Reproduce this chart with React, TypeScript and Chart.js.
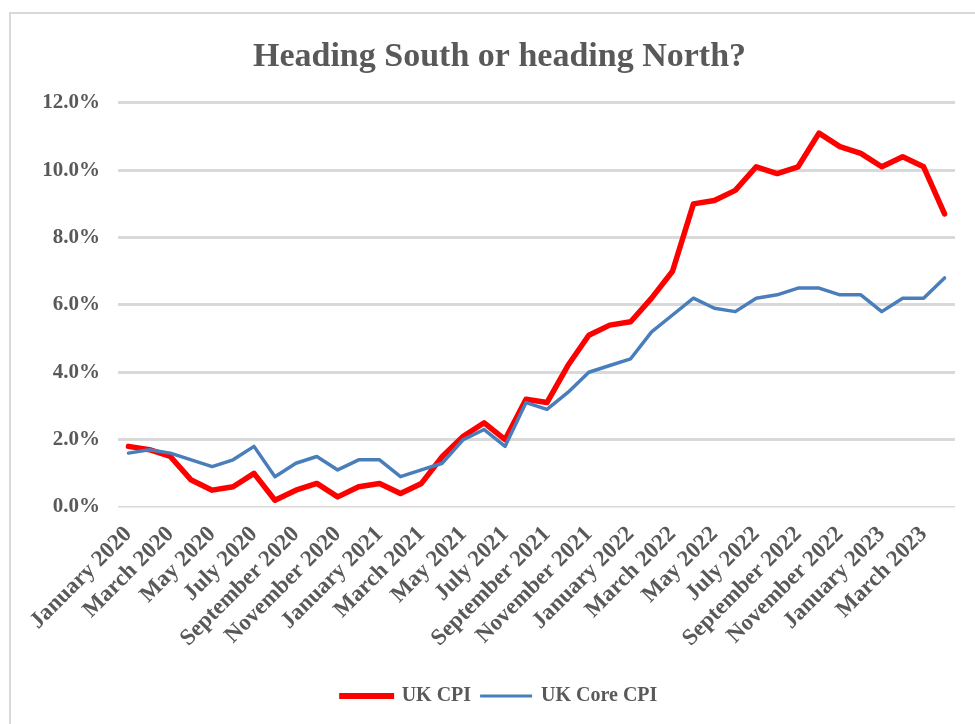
import React, { useEffect, useRef } from "react";
import { Chart, registerables } from "chart.js";

Chart.register(...registerables);

const categories = [
  "January 2020", "February 2020", "March 2020", "April 2020", "May 2020", "June 2020",
  "July 2020", "August 2020", "September 2020", "October 2020", "November 2020", "December 2020",
  "January 2021", "February 2021", "March 2021", "April 2021", "May 2021", "June 2021",
  "July 2021", "August 2021", "September 2021", "October 2021", "November 2021", "December 2021",
  "January 2022", "February 2022", "March 2022", "April 2022", "May 2022", "June 2022",
  "July 2022", "August 2022", "September 2022", "October 2022", "November 2022", "December 2022",
  "January 2023", "February 2023", "March 2023", "April 2023",
];

const ukCpi = [
  1.8, 1.7, 1.5, 0.8, 0.5, 0.6, 1.0, 0.2, 0.5, 0.7, 0.3, 0.6,
  0.7, 0.4, 0.7, 1.5, 2.1, 2.5, 2.0, 3.2, 3.1, 4.2, 5.1, 5.4,
  5.5, 6.2, 7.0, 9.0, 9.1, 9.4, 10.1, 9.9, 10.1, 11.1, 10.7, 10.5,
  10.1, 10.4, 10.1, 8.7,
];

const ukCoreCpi = [
  1.6, 1.7, 1.6, 1.4, 1.2, 1.4, 1.8, 0.9, 1.3, 1.5, 1.1, 1.4,
  1.4, 0.9, 1.1, 1.3, 2.0, 2.3, 1.8, 3.1, 2.9, 3.4, 4.0, 4.2,
  4.4, 5.2, 5.7, 6.2, 5.9, 5.8, 6.2, 6.3, 6.5, 6.5, 6.3, 6.3,
  5.8, 6.2, 6.2, 6.8,
];

const seriesNames = ["UK CPI", "UK Core CPI"];
const titleText = "Heading South or heading North?";

const FONT = "'Liberation Serif', 'Times New Roman', serif";
const TEXT = "#595959";
const GRID = "#d9d9d9";
const RED = "#ff0000";
const BLUE = "#4a7ebb";

export default function App() {
  const ref = useRef<HTMLCanvasElement | null>(null);

  useEffect(() => {
    document.body.style.margin = "0";
    const canvas = ref.current;
    if (!canvas) return;
    const chart = new Chart(canvas, {
      type: "line",
      data: {
        labels: categories,
        datasets: [
          {
            label: seriesNames[0],
            data: ukCpi,
            borderColor: RED,
            backgroundColor: RED,
            borderWidth: 5.5,
            pointRadius: 0,
            pointHoverRadius: 0,
            tension: 0,
            borderJoinStyle: "round",
            borderCapStyle: "round",
            order: 1,
          },
          {
            label: seriesNames[1],
            data: ukCoreCpi,
            borderColor: BLUE,
            backgroundColor: BLUE,
            borderWidth: 3.5,
            pointRadius: 0,
            pointHoverRadius: 0,
            tension: 0,
            borderJoinStyle: "round",
            borderCapStyle: "round",
            order: 0,
          },
        ],
      },
      options: {
        responsive: false,
        animation: false,
        devicePixelRatio: 1,
        layout: { padding: { left: 44, right: 20, top: 0, bottom: 8 } },
        plugins: {
          tooltip: { enabled: false },
          title: {
            display: true,
            text: titleText,
            color: TEXT,
            font: { family: FONT, size: 34, weight: "bold", lineHeight: 1.2 },
            padding: { top: 37, bottom: 25 },
          },
          legend: {
            position: "bottom",
            labels: {
              boxWidth: 50,
              boxHeight: 1,
              padding: 10,
              color: TEXT,
              font: { family: FONT, size: 20, weight: "bold" },
              generateLabels: (c: any) =>
                c.data.datasets.map((ds: any, i: number) => ({
                  text: ds.label,
                  fillStyle: ds.borderColor,
                  strokeStyle: ds.borderColor,
                  lineWidth: i === 0 ? 5 : 2,
                  hidden: false,
                  datasetIndex: i,
                  fontColor: TEXT,
                })),
            },
          },
        },
        scales: {
          x: {
            type: "category",
            offset: true,
            grid: { display: false, drawTicks: false },
            border: { display: false },
            ticks: {
              autoSkip: false,
              maxRotation: 45,
              minRotation: 45,
              padding: 14,
              color: TEXT,
              font: { family: FONT, size: 23, weight: "bold" },
              callback: (_v: any, i: number) => (i % 2 === 0 ? categories[i] : ""),
            },
            afterFit: (s: any) => {
              s.height = 169;
              s.paddingLeft = 0;
              s.paddingRight = 0;
            },
          },
          y: {
            min: 0,
            max: 12,
            grid: {
              color: GRID,
              lineWidth: (ctx: any) => (ctx.tick && ctx.tick.value === 0 ? 1.5 : 3),
              drawTicks: false,
            },
            border: { display: false },
            ticks: {
              stepSize: 2,
              padding: 18,
              color: TEXT,
              font: { family: FONT, size: 21, weight: "bold" },
              callback: (v: any) => Number(v).toFixed(1) + "%",
            },
            afterFit: (s: any) => {
              s.width = 74;
              s.paddingTop = 0;
              s.paddingBottom = 0;
            },
          },
        },
      },
    });
    return () => chart.destroy();
  }, []);

  return (
    <div style={{ position: "fixed", left: 0, top: 0, width: 975, height: 724, background: "#fff", overflow: "hidden" }}>
      <div
        style={{
          position: "absolute",
          left: 9,
          top: 12,
          right: -10,
          bottom: -10,
          borderLeft: `2px solid ${GRID}`,
          borderTop: `2px solid ${GRID}`,
        }}
      />
      <canvas ref={ref} width={975} height={724} style={{ position: "absolute", left: 0, top: 0, width: 975, height: 724, display: "block" }} />
    </div>
  );
}
